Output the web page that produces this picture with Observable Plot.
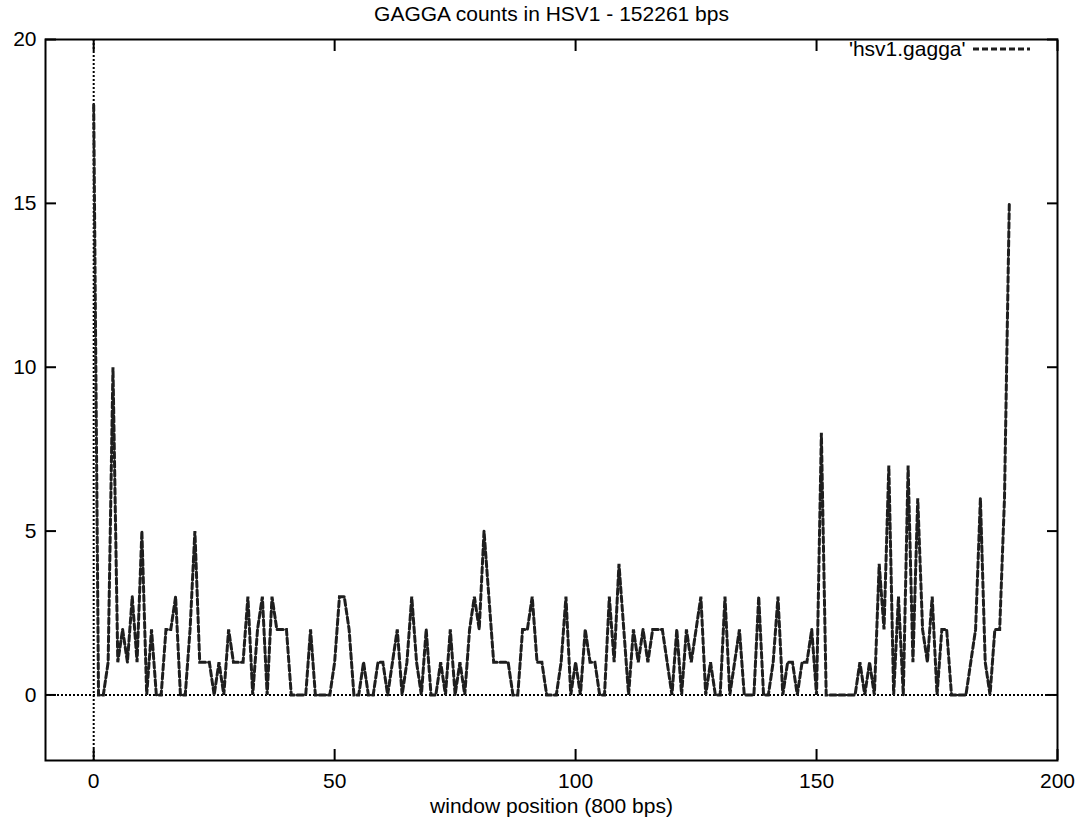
<!DOCTYPE html>
<html>
<head>
<meta charset="utf-8">
<script src="https://cdn.jsdelivr.net/npm/d3@7"></script>
<script src="https://cdn.jsdelivr.net/npm/@observablehq/plot@0.6"></script>
<style>
  html, body { margin: 0; padding: 0; background: #fff; }
  #chart svg { display: block; }
</style>
</head>
<body>
<div id="chart"></div>
<script>
// GAGGA counts per 800-bp window (window index 0..190)
const counts = [
  18, 0, 0, 1, 10, 1, 2, 1, 3, 1,
  5, 0, 2, 0, 0, 2, 2, 3, 0, 0,
  2, 5, 1, 1, 1, 0, 1, 0, 2, 1,
  1, 1, 3, 0, 2, 3, 0, 3, 2, 2,
  2, 0, 0, 0, 0, 2, 0, 0, 0, 0,
  1, 3, 3, 2, 0, 0, 1, 0, 0, 1,
  1, 0, 1, 2, 0, 1, 3, 1, 0, 2,
  0, 0, 1, 0, 2, 0, 1, 0, 2, 3,
  2, 5, 3, 1, 1, 1, 1, 0, 0, 2,
  2, 3, 1, 1, 0, 0, 0, 1, 3, 0,
  1, 0, 2, 1, 1, 0, 0, 3, 1, 4,
  2, 0, 2, 1, 2, 1, 2, 2, 2, 1,
  0, 2, 0, 2, 1, 2, 3, 0, 1, 0,
  0, 3, 0, 1, 2, 0, 0, 0, 3, 0,
  0, 1, 3, 0, 1, 1, 0, 1, 1, 2,
  0, 8, 0, 0, 0, 0, 0, 0, 0, 1,
  0, 1, 0, 4, 2, 7, 0, 3, 0, 7,
  1, 6, 2, 1, 3, 0, 2, 2, 0, 0,
  0, 0, 1, 2, 6, 1, 0, 2, 2, 6,
  15
];
const xTicks = [0, 50, 100, 150, 200];
const yTicks = [0, 5, 10, 15, 20];
const xDomain = [-10, 200];
const yDomain = [-2, 20];
const titleText = "GAGGA counts in HSV1 - 152261 bps";
const xLabelText = "window position (800 bps)";
const legendText = "'hsv1.gagga'";

const W = 1089, H = 818;
const mL = 45, mR = 32, mT = 39, mB = 58;
const FONT = "'Liberation Sans', Arial, Helvetica, sans-serif";
const FS = 21;
const TICK = 11;
const LINE_COLOR = "#1e1e1e";
const DASH = "6,3";

const plot = Plot.plot({
  width: W,
  height: H,
  marginLeft: mL,
  marginRight: mR,
  marginTop: mT,
  marginBottom: mB,
  style: { fontFamily: FONT, fontSize: FS + "px", color: "#000", background: "#fff" },
  x: { domain: xDomain, label: null },
  y: { domain: yDomain, label: null },
  marks: [
    // zero axes (dotted)
    Plot.ruleY([0], { stroke: "#000", strokeWidth: 2, strokeDasharray: "2,2" }),
    Plot.ruleX([0], { stroke: "#000", strokeWidth: 2, strokeDasharray: "2,2" }),
    // data line
    Plot.line(counts, {
      x: (d, i) => i,
      y: d => d,
      stroke: LINE_COLOR,
      strokeWidth: 3,
      strokeDasharray: DASH,
      strokeLinejoin: "miter",
      strokeMiterlimit: 4
    }),
    // axes: labels
    Plot.axisY(yTicks, { anchor: "left", tickSize: 0, tickPadding: 9, fontSize: FS, label: null }),
    Plot.axisX(xTicks, { anchor: "bottom", tickSize: 0, tickPadding: 13, fontSize: FS, label: null }),
    // axes: inward ticks, mirrored
    Plot.axisY(yTicks, { anchor: "left", tickSize: -TICK, tickFormat: () => "", label: null, strokeWidth: 2 }),
    Plot.axisY(yTicks, { anchor: "right", tickSize: -TICK, tickFormat: () => "", label: null, strokeWidth: 2 }),
    Plot.axisX(xTicks, { anchor: "bottom", tickSize: -TICK, tickFormat: () => "", label: null, strokeWidth: 2 }),
    Plot.axisX(xTicks, { anchor: "top", tickSize: -TICK, tickFormat: () => "", label: null, strokeWidth: 2 }),
    // frame
    Plot.frame({ stroke: "#000", strokeWidth: 2 }),
    // title, x label, legend text
    Plot.text([titleText], { frameAnchor: "top", lineAnchor: "middle", dy: -25, fontSize: FS, fill: "#000", text: d => d }),
    Plot.text([xLabelText], { frameAnchor: "bottom", lineAnchor: "middle", dy: 46, fontSize: FS, fill: "#000", text: d => d }),
    Plot.text([legendText], { frameAnchor: "top-right", lineAnchor: "middle", dx: -92, dy: 10, textAnchor: "end", fontSize: FS, fill: "#000", text: d => d })
  ]
});

document.getElementById("chart").appendChild(plot);

// legend sample line (dashed), positioned relative to the plot frame
const svg = d3.select(plot);
const fx2 = W - mR;
svg.append("line")
  .attr("x1", fx2 - 84).attr("x2", fx2 - 27)
  .attr("y1", mT + 10).attr("y2", mT + 10)
  .attr("stroke", LINE_COLOR)
  .attr("stroke-width", 3)
  .attr("stroke-dasharray", DASH);
</script>
</body>
</html>
